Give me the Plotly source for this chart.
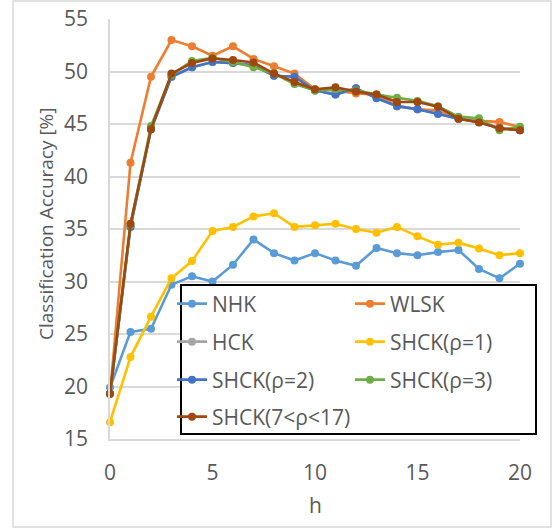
import plotly.graph_objects as go

h = list(range(21))

nhk = [19.9, 25.2, 25.5, 29.7, 30.5, 30.0, 31.6, 34.0, 32.7, 32.0, 32.7, 32.0, 31.5, 33.2, 32.7, 32.5, 32.8, 33.0, 31.2, 30.3, 31.7]
wlsk = [19.3, 41.3, 49.5, 53.0, 52.4, 51.5, 52.4, 51.2, 50.5, 49.8, 48.3, 48.2, 47.9, 47.8, 46.7, 46.4, 46.3, 45.5, 45.3, 45.2, 44.7]
hck = [19.3, 35.2, 44.5, 49.5, 50.4, 50.9, 50.8, 50.6, 49.6, 49.5, 48.2, 47.8, 48.4, 47.5, 46.7, 46.4, 46.0, 45.5, 45.2, 44.6, 44.4]
shck1 = [16.6, 22.8, 26.65, 30.3, 31.95, 34.8, 35.2, 36.2, 36.5, 35.2, 35.35, 35.5, 35.0, 34.65, 35.2, 34.3, 33.5, 33.7, 33.15, 32.5, 32.7]
shck2 = [19.3, 35.2, 44.5, 49.5, 50.4, 50.9, 50.8, 50.6, 49.6, 49.5, 48.2, 47.8, 48.4, 47.45, 46.7, 46.4, 45.95, 45.5, 45.2, 44.6, 44.4]
shck3 = [19.3, 35.4, 44.8, 49.7, 51.0, 51.3, 50.9, 50.4, 49.8, 48.8, 48.2, 48.3, 48.2, 47.8, 47.5, 47.2, 46.7, 45.7, 45.55, 44.4, 44.75]
shck7 = [19.3, 35.5, 44.5, 49.8, 50.8, 51.25, 51.1, 50.85, 49.8, 49.0, 48.3, 48.5, 48.1, 47.8, 47.1, 47.1, 46.65, 45.5, 45.15, 44.6, 44.4]

names = ["NHK", "WLSK", "HCK", "SHCK(ρ=1)", "SHCK(ρ=2)", "SHCK(ρ=3)", "SHCK(7<ρ<17)"]
colors = ["#5B9BD5", "#ED7D31", "#A5A5A5", "#FFC000", "#4472C4", "#70AD47", "#9E480E"]
series = [nhk, wlsk, hck, shck1, shck2, shck3, shck7]

x_title = "h"
y_title = "Classification Accuracy [%]"

W, H = 553, 529
L, R, T, B = 110, 33, 19, 90
pw, ph = W - L - R, H - T - B


def px_x(p):
    return (p - L) / pw


def px_y(p):
    return (H - B - p) / ph


legend_ids = ["legend", "legend", "legend2", "legend2", "legend3", "legend3", "legend4"]

fig = go.Figure()
for name, col, ys, lg in zip(names, colors, series, legend_ids):
    fig.add_trace(go.Scatter(
        x=h, y=ys, name=name, mode="lines+markers",
        line=dict(color=col, width=2.6),
        marker=dict(color=col, size=8),
        cliponaxis=False, legend=lg,
    ))

font_family = "Open Sans, Liberation Sans, Arial, sans-serif"
txt = "#595959"

row_centers = [304, 342, 380, 417]
legend_common = dict(
    orientation="h", xanchor="left", yanchor="middle",
    bgcolor="rgba(0,0,0,0)", borderwidth=0,
    entrywidth=133, entrywidthmode="pixels",
    font=dict(size=21, color=txt), traceorder="normal",
)
legends = {}
for i, key in enumerate(["legend", "legend2", "legend3", "legend4"]):
    legends[key] = dict(legend_common, x=px_x(172), y=px_y(row_centers[i]))

fig.update_layout(
    width=W, height=H,
    margin=dict(l=L, r=R, t=T, b=B, autoexpand=False),
    plot_bgcolor="white", paper_bgcolor="white",
    font=dict(family=font_family, color=txt, size=18),
    xaxis=dict(
        range=[0, 20], tickvals=[0, 5, 10, 15, 20], showgrid=False,
        showline=True, linecolor="#D9D9D9", linewidth=1.5, zeroline=False,
        ticks="", tickfont=dict(size=21, color=txt), ticklabelstandoff=14,
    ),
    yaxis=dict(
        range=[15, 55], tickvals=[15, 20, 25, 30, 35, 40, 45, 50, 55],
        showgrid=True, gridcolor="#D9D9D9", gridwidth=1.5,
        showline=True, linecolor="#D9D9D9", linewidth=1.5, zeroline=False,
        ticks="", tickfont=dict(size=21, color=txt), ticklabelstandoff=16,
    ),
    annotations=[
        dict(text=x_title, xref="paper", yref="paper", x=px_x(315), y=px_y(505),
             xanchor="center", yanchor="middle", showarrow=False,
             font=dict(size=21, color=txt)),
        dict(text=y_title, xref="paper", yref="paper", x=px_x(46), y=px_y(224),
             xanchor="center", yanchor="middle", showarrow=False, textangle=-90,
             font=dict(size=19, color=txt)),
    ],
    shapes=[
        dict(type="rect", xref="paper", yref="paper",
             x0=px_x(13), x1=px_x(551), y0=px_y(527), y1=px_y(1),
             line=dict(color="#D9D9D9", width=1.5), layer="below"),
        dict(type="rect", xref="paper", yref="paper",
             x0=px_x(181), x1=px_x(536), y0=px_y(434), y1=px_y(285),
             fillcolor="white", line=dict(color="black", width=2), layer="above"),
    ],
    **legends,
)

fig.write_html("out.html", config={"displayModeBar": False},
               post_script="document.body.style.margin='0';")
